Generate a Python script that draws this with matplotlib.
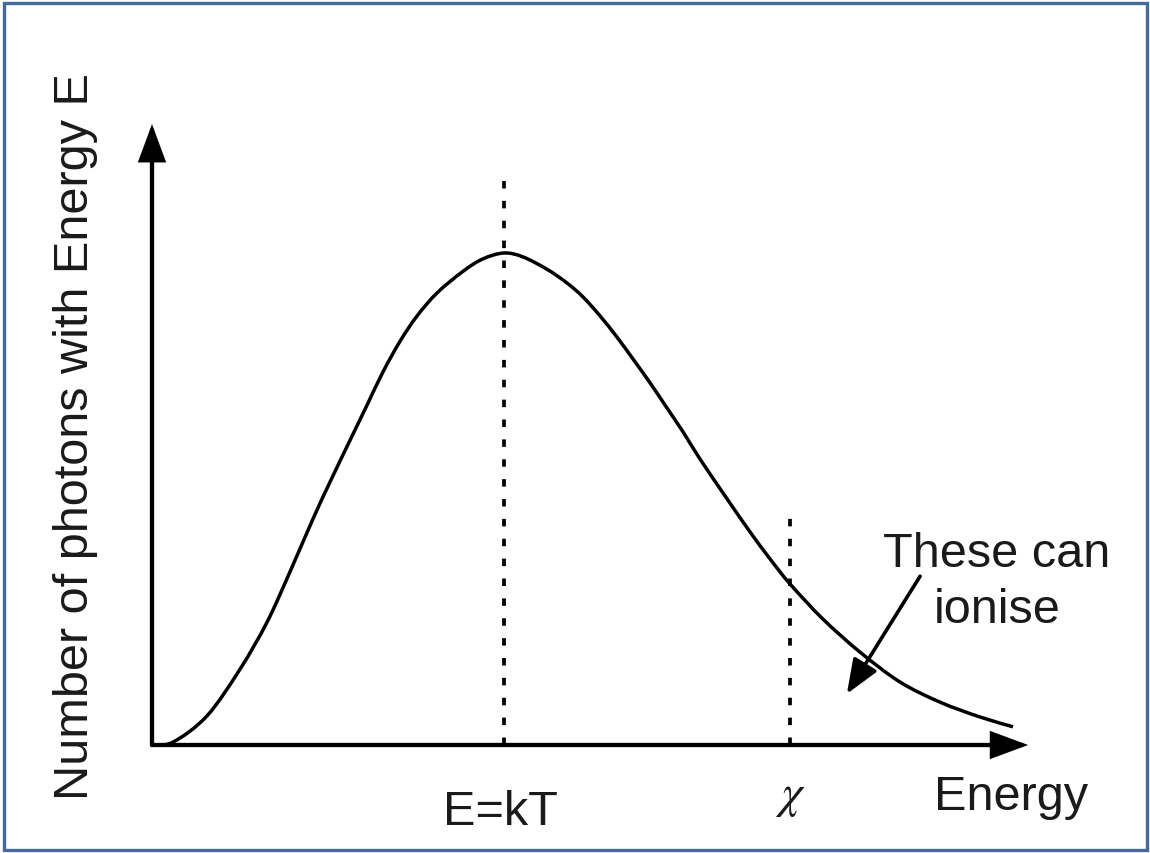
import matplotlib
matplotlib.use("Agg")
import matplotlib.pyplot as plt
import numpy as np
from matplotlib.patches import Rectangle, PathPatch
from matplotlib.path import Path

plt.rcParams['font.family'] = ['Liberation Sans', 'DejaVu Sans']

# curve: energy in units of kT, count relative to the peak
energy = [0.0, 0.060, 0.156, 0.250, 0.327, 0.392, 0.457, 0.506, 0.563, 0.611,
          0.656, 0.705, 0.753, 0.810, 0.884, 0.940, 1.0, 1.054, 1.122, 1.179,
          1.224, 1.273, 1.321, 1.366, 1.415, 1.463, 1.509, 1.557, 1.634, 1.699,
          1.756, 1.813, 1.906, 2.011, 2.125, 2.239, 2.352, 2.446]
photons = [0.0, 0.006, 0.059, 0.154, 0.250, 0.352, 0.459, 0.535, 0.620, 0.691,
           0.758, 0.821, 0.872, 0.919, 0.963, 0.988, 1.0, 0.992, 0.967, 0.939,
           0.911, 0.872, 0.829, 0.785, 0.736, 0.685, 0.636, 0.581, 0.500, 0.433,
           0.378, 0.327, 0.256, 0.189, 0.128, 0.087, 0.057, 0.037]

kT = 1.0
chi = 1.8125
kT_line_top = 1.157
chi_line_top = 0.476
x_axis_end = 2.489
y_axis_end = 1.262


def smooth_path(xs, ys):
    # cubic bezier through the read points (Catmull-Rom tangents)
    p = np.column_stack([xs, ys])
    verts = [p[0]]
    codes = [Path.MOVETO]
    for i in range(len(p) - 1):
        p0 = p[max(i - 1, 0)]
        p3 = p[min(i + 2, len(p) - 1)]
        c1 = p[i] + (p[i + 1] - p0) / 6
        c2 = p[i + 1] - (p3 - p[i]) / 6
        verts += [c1, c2, p[i + 1]]
        codes += [Path.CURVE4] * 3
    return Path(verts, codes)


W, H = 1150, 854
fig = plt.figure(figsize=(W / 100, H / 100), dpi=100)
ax = fig.add_axes([0, 0, 1, 1])
# origin sits at pixel (152, 746); 352 px per kT, 492 px per peak height
ax.set_xlim(-152 / 352, (W - 152) / 352)
ax.set_ylim(-(H - 746) / 492, 746 / 492)
ax.axis('off')

ax.add_patch(PathPatch(smooth_path(energy, photons), fill=False,
                       edgecolor='black', lw=2.5, capstyle='butt'))

dash = (0, (2.0, 3.3))
ax.plot([kT, kT], [0, kT_line_top], color='black', lw=2.7, linestyle=dash)
ax.plot([chi, chi], [0, chi_line_top], color='black', lw=2.7, linestyle=dash)

# axes with arrow heads
head = '-|>,head_length=1.08,head_width=0.4'
for tip in [(x_axis_end, 0), (0, y_axis_end)]:
    ax.annotate('', xy=tip, xytext=(0, 0),
                arrowprops=dict(arrowstyle=head, mutation_scale=20, lw=3.1,
                                color='black', shrinkA=0, shrinkB=0,
                                joinstyle='miter'))

# "These can ionise" pointer
ax.annotate('', xy=(1.974, 0.104), xytext=(2.182, 0.343),
            arrowprops=dict(arrowstyle='-|>,head_length=1.05,head_width=0.42',
                            mutation_scale=20, lw=2.6, color='black',
                            shrinkA=0, shrinkB=0))

fs = 35
tc = '#1a1a1a'
ax.text(2.40, 0.364, 'These can', fontsize=fs, ha='center', va='baseline', color=tc)
ax.text(2.40, 0.25, 'ionise', fontsize=fs, ha='center', va='baseline', color=tc)
ax.text(0.989, -0.161, 'E=kT', fontsize=fs, ha='center', va='baseline', color=tc)
ax.text(2.44, -0.130, 'Energy', fontsize=fs, ha='center', va='baseline', color=tc)
ax.text(chi, -0.124, r'$\chi$', fontsize=34, ha='center', va='baseline', color=tc,
        math_fontfamily='stix')
ax.text(-0.216, 0.63, 'Number of photons with Energy E', fontsize=fs,
        rotation=90, ha='center', va='center', color=tc)

fig.patches.append(Rectangle((3.5 / W, 3.5 / H), 1 - 7 / W, 1 - 7 / H,
                             transform=fig.transFigure, fill=False,
                             edgecolor='#46699B', lw=2.4))

fig.savefig('out.png', dpi=100)
